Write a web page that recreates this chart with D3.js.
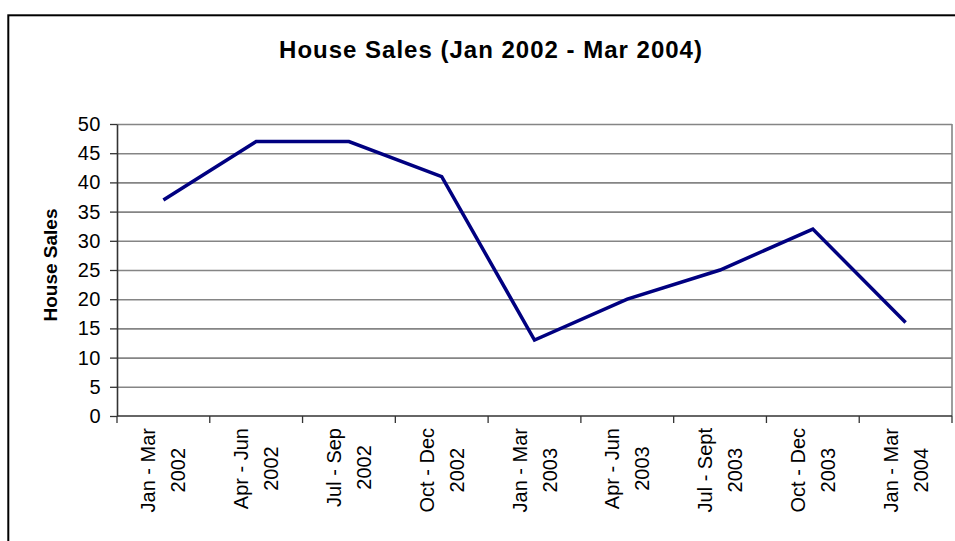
<!DOCTYPE html>
<html>
<head>
<meta charset="utf-8">
<script src="https://cdn.jsdelivr.net/npm/d3@7"></script>
<style>
  html, body { margin: 0; padding: 0; background: #fff; }
  svg { display: block; font-family: Arial, "Liberation Sans", sans-serif; }
</style>
</head>
<body>
<div id="chart"></div>
<script>
// chart data
const categories = [
    ["Jan - Mar", "2002"],
    ["Apr - Jun", "2002"],
    ["Jul - Sep", "2002"],
    ["Oct - Dec", "2002"],
    ["Jan - Mar", "2003"],
    ["Apr - Jun", "2003"],
    ["Jul - Sept", "2003"],
    ["Oct - Dec", "2003"],
    ["Jan - Mar", "2004"]
];
const sales = [37, 47, 47, 41, 13, 20, 25, 32, 16];
const yTicks = [0, 5, 10, 15, 20, 25, 30, 35, 40, 45, 50];
const titleText = "House Sales (Jan 2002 - Mar 2004)";
const yTitle = "House Sales";

const width = 955, height = 541;
const plot = { left: 117, right: 952, top: 124, bottom: 416 };

let svg = d3.select("#chart").append("svg")
    .attr("width", width)
    .attr("height", height);

//=================================================
// outer frame (runs off the right / bottom edge)
//=================================================
svg.append("rect")
    .attr("x", 8.3).attr("y", 15.3)
    .attr("width", 1000).attr("height", 600)
    .attr("fill", "none")
    .attr("stroke", "#000")
    .attr("stroke-width", 2);

//=================================================
// scales
//=================================================
let keys = categories.map((c, i) => i);
let x = d3.scaleBand().domain(keys).range([plot.left, plot.right]).padding(0);
let y = d3.scaleLinear().domain([0, 50]).range([plot.bottom, plot.top]);

//=================================================
// gridlines + plot border
//=================================================
svg.append("g")
    .attr("transform", "translate(" + plot.left + ",0)")
    .call(d3.axisLeft(y).tickValues(yTicks.filter(d => d > 0)).tickSize(-(plot.right - plot.left)).tickFormat(""))
    .call(g => g.select(".domain").remove())
    .call(g => g.selectAll("line").attr("stroke", "#858585").attr("stroke-width", 1.6));

svg.append("line")
    .attr("x1", plot.right).attr("x2", plot.right)
    .attr("y1", plot.top).attr("y2", plot.bottom)
    .attr("stroke", "#858585").attr("stroke-width", 1.6);

//=================================================
// Y axis
//=================================================
let axisY = svg.append("g")
    .attr("transform", "translate(" + plot.left + ",0)")
    .call(d3.axisLeft(y).tickValues(yTicks).tickSize(7).tickPadding(9).tickSizeOuter(0));
axisY.select(".domain").attr("stroke", "#333").attr("stroke-width", 1.6);
axisY.selectAll(".tick line").attr("stroke", "#333").attr("stroke-width", 1.3);
axisY.selectAll(".tick text")
    .attr("font-size", 20)
    .attr("letter-spacing", 0.5)
    .attr("fill", "#000")
    .attr("font-family", "Arial, 'Liberation Sans', sans-serif");

//=================================================
// X axis (ticks sit between categories)
//=================================================
let axisX = svg.append("g");
axisX.append("line")
    .attr("x1", plot.left).attr("x2", plot.right)
    .attr("y1", plot.bottom).attr("y2", plot.bottom)
    .attr("stroke", "#333").attr("stroke-width", 1.6);
let edges = keys.map(k => x(k)).concat([plot.right]);
axisX.selectAll(".xtick").data(edges).enter().append("line")
    .attr("class", "xtick")
    .attr("x1", d => d).attr("x2", d => d)
    .attr("y1", plot.bottom).attr("y2", plot.bottom + 7)
    .attr("stroke", "#333").attr("stroke-width", 1.3);

let labelTop = 428;
categories.forEach((lines, i) => {
    let cx = x(i) + x.bandwidth() / 2;
    let g = axisX.append("g");
    let texts = lines.map((t, j) => g.append("text")
        .attr("font-size", 20)
        .attr("text-anchor", "middle")
        .text(t));
    let maxLen = d3.max(texts, t => t.node().getComputedTextLength());
    texts.forEach((t, j) => {
        let bx = cx - 8 + j * 30;
        t.attr("transform", "translate(" + bx + "," + (labelTop + maxLen / 2) + ") rotate(-90)");
    });
});

//=================================================
// titles
//=================================================
svg.append("text")
    .attr("x", 491).attr("y", 58)
    .attr("text-anchor", "middle")
    .attr("font-size", 24)
    .attr("letter-spacing", 1)
    .attr("font-weight", "bold")
    .text(titleText);

svg.append("text")
    .attr("transform", "translate(57,265) rotate(-90)")
    .attr("text-anchor", "middle")
    .attr("font-size", 19)
    .attr("font-weight", "bold")
    .text(yTitle);

//=================================================
// series
//=================================================
let line = d3.line()
    .x((d, i) => x(i) + x.bandwidth() / 2)
    .y(d => y(d));

svg.append("path")
    .datum(sales)
    .attr("d", line)
    .attr("fill", "none")
    .attr("stroke", "#000080")
    .attr("stroke-width", 3.5)
    .attr("stroke-linejoin", "miter");
</script>
</body>
</html>
